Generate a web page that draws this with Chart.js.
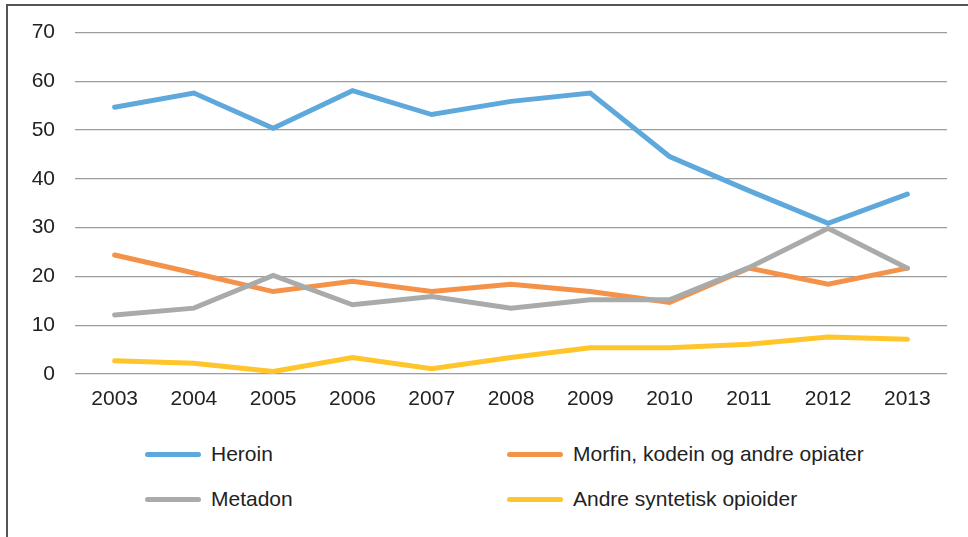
<!DOCTYPE html>
<html>
<head>
<meta charset="utf-8">
<script src="https://cdn.jsdelivr.net/npm/chart.js@4/dist/chart.umd.min.js"></script>
<style>
  body { margin: 0; background: #fff; font-family: "Liberation Sans", Arial, sans-serif; }
  #wrap { position: relative; width: 968px; height: 537px; overflow: hidden; }
  #frame { position: absolute; left: 6px; top: 4px; width: 980px; height: 560px;
           border-left: 2px solid #555; border-top: 2px solid #555; }
  #box { position: absolute; left: 0; top: 0; width: 968px; height: 420px; }
  .leg { position: absolute; font-size: 21px; color: #222; white-space: nowrap; line-height: 24px; }
  .leg span { position: absolute; top: 10px; width: 56px; height: 5px; border-radius: 3px; }
  .leg b { font-weight: normal; position: absolute; left: 66px; top: 0; }
</style>
</head>
<body>
<div id="wrap">
  <div id="frame"></div>
  <div id="box"><canvas id="myChart"></canvas></div>
  <div id="legend"></div>
</div>
<script>
var years = ['2003', '2004', '2005', '2006', '2007', '2008', '2009', '2010', '2011', '2012', '2013'];
var heroin = [54.7, 57.6, 50.4, 58.1, 53.2, 55.9, 57.6, 44.6, 37.6, 30.9, 36.9];
var morfin = [24.4, 20.7, 16.9, 19.0, 16.9, 18.4, 16.9, 14.7, 21.7, 18.4, 21.7];
var metadon = [12.1, 13.5, 20.2, 14.2, 15.9, 13.5, 15.2, 15.2, 21.8, 29.9, 21.7];
var andre = [2.7, 2.2, 0.5, 3.4, 1.1, 3.4, 5.4, 5.4, 6.1, 7.6, 7.1];
var yTicks = [0, 10, 20, 30, 40, 50, 60, 70];

var names = ['Heroin', 'Morfin, kodein og andre opiater', 'Metadon', 'Andre syntetisk opioider'];
var colors = ['#5fa8dc', '#f5924a', '#a9abab', '#ffc52a'];

function line(i, data, order){
    return {
        label: names[i],
        data: data,
        borderColor: colors[i],
        backgroundColor: colors[i],
        borderWidth: 5,
        borderCapStyle: 'round',
        pointRadius: 0,
        fill: false,
        tension: 0,
        order: order
    };
}

const ctx = document.getElementById('myChart').getContext('2d');
const myChart = new Chart(ctx, {
    type: 'line',
    data: {
        labels: years,
        datasets: [
            line(0, heroin, 4),
            line(1, morfin, 3),
            line(2, metadon, 2),
            line(3, andre, 1)
        ]
    },
    options: {
        responsive: true,
        maintainAspectRatio: false,
        animation: false,
        layout: { padding: { left: 0, right: 21, top: 27, bottom: 0 } },
        plugins: { legend: { display: false }, tooltip: { enabled: false } },
        scales: {
            x: {
                offset: true,
                grid: { display: false, drawTicks: false },
                border: { display: false },
                ticks: { color: '#222', padding: 13, maxRotation: 0,
                         font: { family: 'Liberation Sans', size: 21 } },
                afterFit: s => { s.height = 46; }
            },
            y: {
                min: 0,
                max: 70,
                afterBuildTicks: s => { s.ticks = yTicks.map(v => ({ value: v })); },
                grid: { color: '#9d9d9d', lineWidth: 1.3, drawTicks: false },
                border: { display: false },
                ticks: { color: '#222', padding: 20,
                         font: { family: 'Liberation Sans', size: 21 } },
                afterFit: s => { s.width = 75; }
            }
        }
    }
});

// legend in two columns, like the original
var legPos = [[145, 442], [507, 442], [145, 487], [507, 487]];
var legend = document.getElementById('legend');
names.forEach((n, i) => {
    var d = document.createElement('div');
    d.className = 'leg';
    d.style.left = legPos[i][0] + 'px';
    d.style.top = legPos[i][1] + 'px';
    d.innerHTML = '<span style="background:' + colors[i] + '"></span><b>' + n + '</b>';
    legend.appendChild(d);
});
</script>
</body>
</html>
